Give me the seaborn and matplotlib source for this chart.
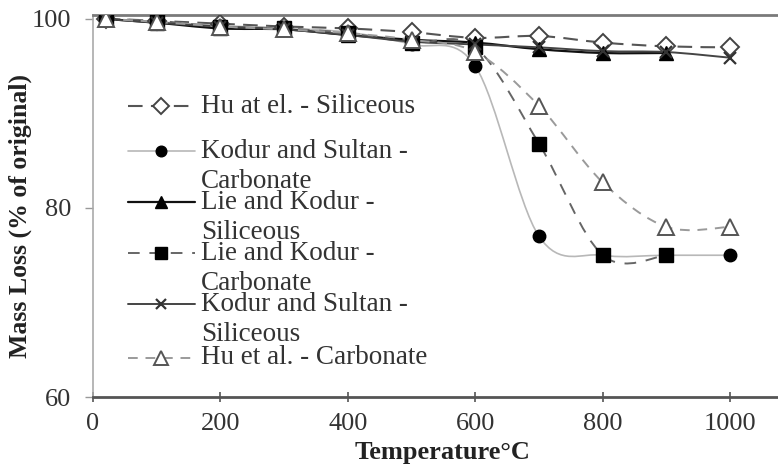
import numpy as np
import pandas as pd
import matplotlib
matplotlib.use("Agg")
import matplotlib.pyplot as plt
from matplotlib.path import Path
from matplotlib.patches import PathPatch
from matplotlib.font_manager import FontProperties
import seaborn as sns

# ---------------- data ----------------
temperature = [20, 100, 200, 300, 400, 500, 600, 700, 800, 900, 1000]
hu_siliceous = [100, 99.8, 99.5, 99.2, 99.0, 98.6, 98.0, 98.2, 97.5, 97.1, 97.0]
kodur_sultan_carbonate = [100, 99.7, 99.3, 99.0, 98.6, 97.3, 95.0, 77.0, 75.0, 75.0, 75.0]
lie_kodur_siliceous = [100, 99.6, 99.0, 98.9, 98.3, 97.8, 97.5, 96.8, 96.4, 96.4, np.nan]
lie_kodur_carbonate = [100, 99.8, 99.2, 99.0, 98.5, 97.5, 97.0, 86.8, 75.0, 75.0, np.nan]
kodur_sultan_siliceous = [100, 99.6, 99.2, 98.9, 98.3, 97.6, 97.3, 97.0, 96.6, 96.5, 95.9]
hu_carbonate = [100, 99.7, 99.2, 98.9, 98.5, 97.8, 96.5, 90.8, 82.7, 78.0, 78.0]

series_labels = [
    "Hu at el. - Siliceous\n ",
    "Kodur and Sultan -\nCarbonate",
    "Lie and Kodur -\nSiliceous",
    "Lie and Kodur -\nCarbonate",
    "Kodur and Sultan -\nSiliceous",
    "Hu et al. - Carbonate",
]
series_values = [hu_siliceous, kodur_sultan_carbonate, lie_kodur_siliceous,
                 lie_kodur_carbonate, kodur_sultan_siliceous, hu_carbonate]
x_ticks = [0, 200, 400, 600, 800, 1000]
y_ticks = [60, 80, 100]

# ---------------- styles ----------------
styles = [
    dict(color="#555555", lw=1.5, ls=(0, (7, 4)), marker="D", ms=9.5, mfc="white", mec="#444444", mew=1.4),
    dict(color="#b8b8b8", lw=1.2, ls="-", marker="o", ms=9, mfc="black", mec="black", mew=1.0),
    dict(color="#111111", lw=1.6, ls="-", marker="^", ms=9.5, mfc="black", mec="black", mew=1.0),
    dict(color="#666666", lw=1.4, ls=(0, (6, 5)), marker="s", ms=9.5, mfc="black", mec="black", mew=1.0),
    dict(color="#444444", lw=1.4, ls="-", marker="x", ms=9, mfc="#333333", mec="#333333", mew=1.6),
    dict(color="#9a9a9a", lw=1.4, ls=(0, (5, 4)), marker="^", ms=12, mfc="white", mec="#555555", mew=1.4),
]

sns.set_theme(style="white")
plt.rcParams["font.family"] = ["Liberation Serif", "DejaVu Serif"]

W, H = 778, 465
fig = plt.figure(figsize=(W / 100, H / 100), dpi=100)
ax = fig.add_axes([93 / W, (H - 397) / H, (W - 93) / W, (397 - 15) / H])


def smooth_path(xs, ys):
    pts = [(x, y) for x, y in zip(xs, ys) if not np.isnan(y)]
    n = len(pts)
    verts = [pts[0]]
    codes = [Path.MOVETO]
    for i in range(n - 1):
        p0 = pts[i - 1] if i > 0 else pts[i]
        p1 = pts[i]
        p2 = pts[i + 1]
        p3 = pts[i + 2] if i + 2 < n else pts[i + 1]
        c1 = (p1[0] + (p2[0] - p0[0]) / 6, p1[1] + (p2[1] - p0[1]) / 6)
        c2 = (p2[0] - (p3[0] - p1[0]) / 6, p2[1] - (p3[1] - p1[1]) / 6)
        verts += [c1, c2, p2]
        codes += [Path.CURVE4] * 3
    return Path(verts, codes)


handles = []
for vals, lab, st in zip(series_values, series_labels, styles):
    df = pd.DataFrame({"Temperature": temperature, "Mass": vals})
    # smooth connecting line (Excel-style smoothing)
    ax.add_patch(PathPatch(smooth_path(df["Temperature"].values, df["Mass"].values),
                           facecolor="none", edgecolor=st["color"], lw=st["lw"],
                           linestyle=st["ls"], zorder=2))
    sns.lineplot(data=df, x="Temperature", y="Mass", ax=ax, errorbar=None,
                 color=st["color"], lw=st["lw"], linestyle=st["ls"],
                 marker=st["marker"], markersize=st["ms"],
                 markerfacecolor=st["mfc"], markeredgecolor=st["mec"],
                 markeredgewidth=st["mew"], zorder=3)
    handles.append(ax.lines[-1])

ax.set_xlim(0, 1075)
ax.set_ylim(60, 100.42)
ax.set_xticks(x_ticks)
ax.set_yticks(y_ticks)

ax.spines["right"].set_visible(False)
ax.spines["top"].set_color("#7a7a7a")
ax.spines["top"].set_linewidth(2)
ax.spines["bottom"].set_color("#555555")
ax.spines["bottom"].set_linewidth(2)
ax.spines["left"].set_color("#aaaaaa")
ax.spines["left"].set_linewidth(1.2)

ax.tick_params(axis="x", direction="inout", length=7, width=1.2, colors="#555555",
               pad=8, labelsize=19, labelcolor="#333333")
ax.tick_params(axis="y", direction="out", length=5.5, width=1.0, colors="#999999",
               pad=10, labelsize=19, labelcolor="#333333")
ax.tick_params(bottom=True, left=True)

ax.set_xlabel("Temperature°C", fontsize=19, fontweight="bold", color="#222222")
ax.set_ylabel("Mass Loss (% of original)", fontsize=18.5, fontweight="bold", color="#222222")
ax.xaxis.set_label_coords(0.51, -0.115)
ax.yaxis.set_label_coords(-0.089, 0.475)

LEG_FS = 19.5
leg = ax.legend(handles, series_labels, loc="upper left",
                bbox_to_anchor=(126 / W, 1 - 94 / H), bbox_transform=fig.transFigure,
                frameon=False, borderpad=0, borderaxespad=0, handlelength=2.45,
                handletextpad=0.25, labelspacing=-0.14, markerscale=0.85,
                prop=FontProperties(family="Liberation Serif", size=LEG_FS))
for i, t in enumerate(leg.get_texts()):
    t.set_linespacing(0.95 if i == 0 else 1.25)
    t.set_color("#333333")

# a little extra room above the last (single-line) entry
try:
    column = leg._legend_handle_box.get_children()[0]
    column.get_children()[-1].pad = 1.6
except Exception:
    pass

# hide straight connecting lines; smooth curves are drawn as paths
for h in handles:
    h.set_linestyle("None")

# put legend handles on the first text line
fig.canvas.draw()
renderer = fig.canvas.get_renderer()
fpx = LEG_FS * 100 / 72
for h, t in zip(leg.legend_handles, leg.get_texts()):
    bb = t.get_window_extent(renderer)
    target = bb.y1 - 0.45 * fpx
    yd = np.asarray(h.get_ydata(), dtype=float)
    cur = h.get_transform().transform((0, yd[0]))[1]
    h.set_ydata(yd + (target - cur) * 72 / 100)

fig.savefig("out.png", dpi=100)
